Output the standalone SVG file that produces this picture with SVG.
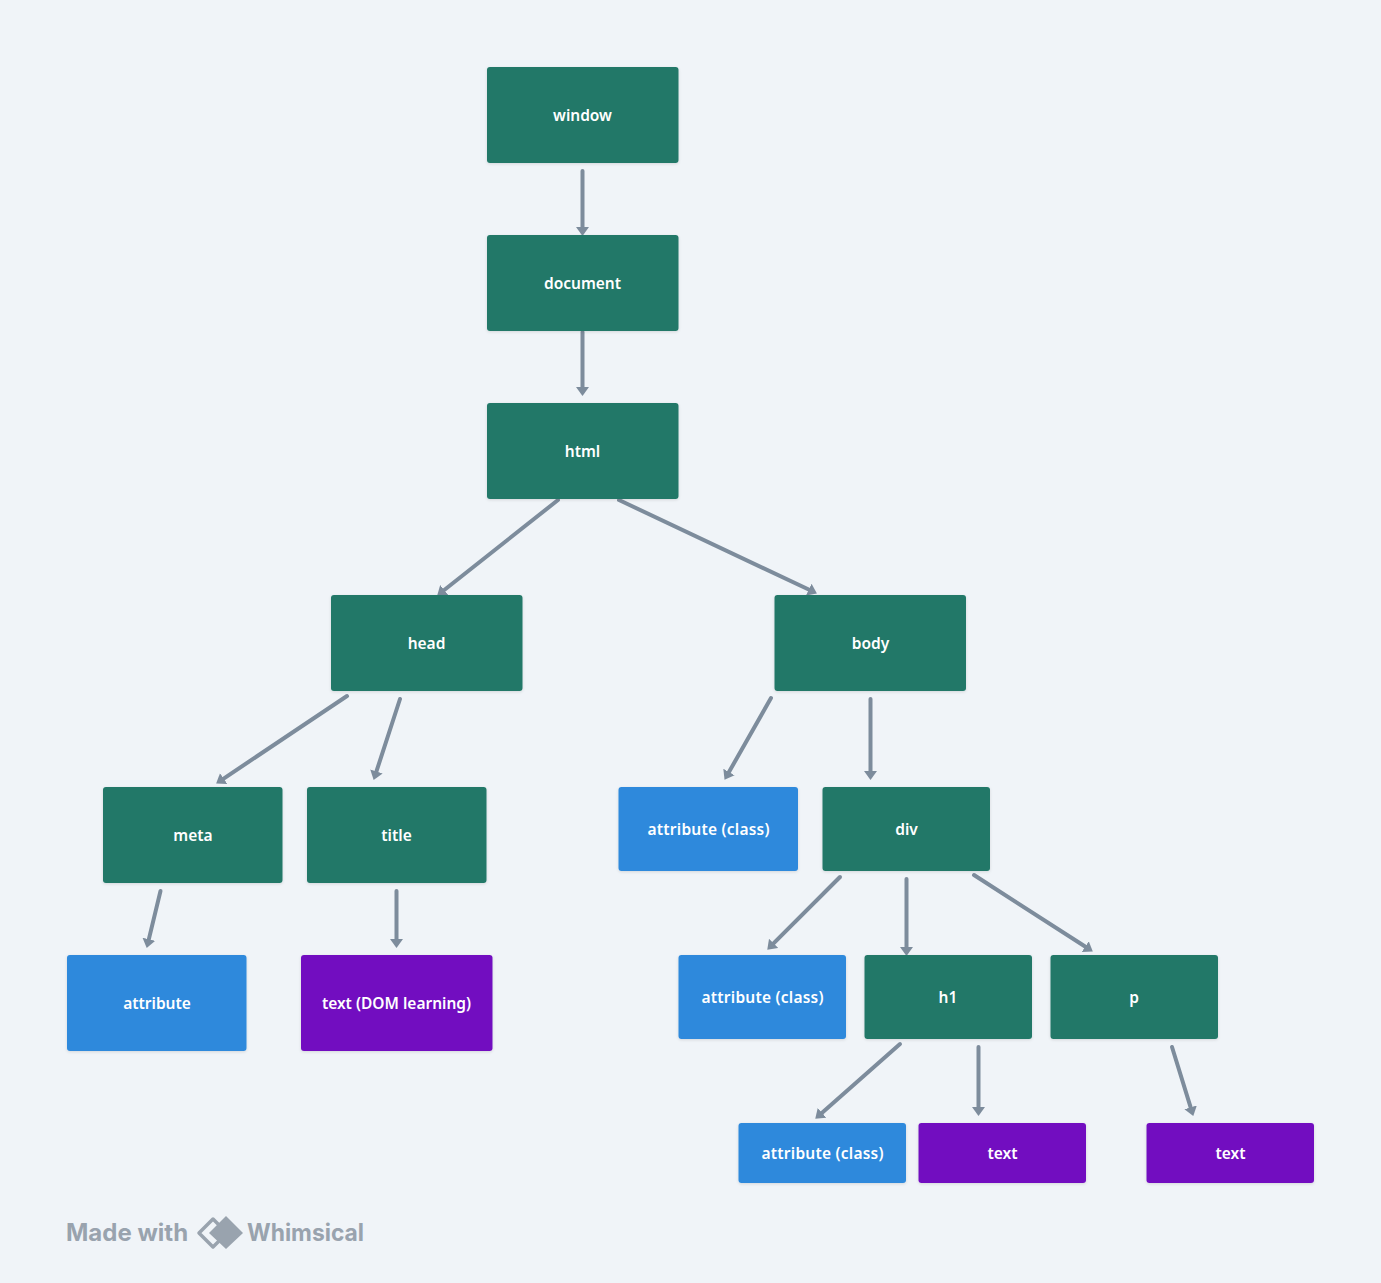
<svg xmlns="http://www.w3.org/2000/svg" width="1381" height="1283" viewBox="0 0 1381 1283">
<style>
.n rect{rx:3px;ry:3px;filter:url(#s)}
.g rect{fill:#207868}
.b rect{fill:#2d89dc}
.p rect{fill:#720fc0}
.n text{font:600 15.500px "Noto Sans",Roboto,sans-serif;fill:#fff;text-anchor:middle}
#connectors line{stroke:#7d8c9c;stroke-width:4;stroke-linecap:round;marker-end:url(#a)}
.w{font:700 24px Inter,"Liberation Sans",sans-serif;fill:#99a3ae}
</style>
<defs>
<marker id="a" markerUnits="userSpaceOnUse" markerWidth="16" markerHeight="16" refX="4" refY="7" orient="auto"><path d="M0 0.5L9 7L0 13.500Z" fill="#7d8c9c"/></marker>
<filter id="s" x="-5%" y="-5%" width="110%" height="115%"><feDropShadow dx="0" dy="1" stdDeviation="1.500" flood-color="#000" flood-opacity=".12"/></filter>
</defs>
<rect width="1381" height="1283" fill="#f0f4f8"/>
<g id="connectors">
<line x1="582.500" y1="171" x2="582.500" y2="231"/>
<line x1="582.500" y1="332" x2="582.500" y2="391"/>
<line x1="558" y1="500" x2="441.100" y2="592.500"/>
<line x1="619" y1="500" x2="812.400" y2="591.300"/>
<line x1="347" y1="696" x2="220.300" y2="780.800"/>
<line x1="400" y1="699" x2="375.200" y2="775.200"/>
<line x1="771" y1="698" x2="727" y2="775.500"/>
<line x1="870.500" y1="699" x2="870.500" y2="775"/>
<line x1="160.500" y1="891" x2="147.900" y2="943.100"/>
<line x1="396.500" y1="891" x2="396.500" y2="943"/>
<line x1="840" y1="877" x2="770.800" y2="946.200"/>
<line x1="906.500" y1="879" x2="906.500" y2="951"/>
<line x1="974" y1="875" x2="1088.600" y2="948.800"/>
<line x1="900" y1="1044" x2="819" y2="1115.400"/>
<line x1="978.500" y1="1047" x2="978.500" y2="1111"/>
<line x1="1172" y1="1047" x2="1191.800" y2="1111.200"/>
</g>
<g id="window" class="n g"><rect x="487" y="67" width="191.500" height="96"/><text x="582.500" y="121">window</text></g>
<g id="document" class="n g"><rect x="487" y="235" width="191.500" height="96"/><text x="582.500" y="289">document</text></g>
<g id="html" class="n g"><rect x="487" y="403" width="191.500" height="96"/><text x="582.500" y="457">html</text></g>
<g id="head" class="n g"><rect x="331" y="595" width="191.500" height="96"/><text x="426.500" y="649">head</text></g>
<g id="body" class="n g"><rect x="774.500" y="595" width="191.500" height="96"/><text x="870.500" y="649">body</text></g>
<g id="meta" class="n g"><rect x="103" y="787" width="179.500" height="96"/><text x="193" y="841">meta</text></g>
<g id="title" class="n g"><rect x="307" y="787" width="179.500" height="96"/><text x="396.500" y="841">title</text></g>
<g id="attr-body" class="n b"><rect x="618.500" y="787" width="179.500" height="84"/><text x="708.500" y="835" textLength="122">attribute (class)</text></g>
<g id="div" class="n g"><rect x="822.500" y="787" width="167.500" height="84"/><text x="906.500" y="835">div</text></g>
<g id="attr-meta" class="n b"><rect x="67" y="955" width="179.500" height="96"/><text x="157" y="1009">attribute</text></g>
<g id="text-title" class="n p"><rect x="301" y="955" width="191.500" height="96"/><text x="396.500" y="1009">text (DOM learning)</text></g>
<g id="attr-div" class="n b"><rect x="678.500" y="955" width="167.500" height="84"/><text x="762.500" y="1003" textLength="122">attribute (class)</text></g>
<g id="h1" class="n g"><rect x="864.500" y="955" width="167.500" height="84"/><text x="948" y="1003">h1</text></g>
<g id="p" class="n g"><rect x="1050.500" y="955" width="167.500" height="84"/><text x="1134" y="1003">p</text></g>
<g id="attr-h1" class="n b"><rect x="738.500" y="1123" width="167.500" height="60"/><text x="822.500" y="1159" textLength="122">attribute (class)</text></g>
<g id="text-h1" class="n p"><rect x="918.500" y="1123" width="167.500" height="60"/><text x="1002.500" y="1159">text</text></g>
<g id="text-p" class="n p"><rect x="1146.500" y="1123" width="167.500" height="60"/><text x="1230.500" y="1159">text</text></g>
<text class="w" x="66" y="1241">Made with</text>
<path d="M213 1219L199 1233L213 1247L220 1240L213 1233L220 1226Z" fill="none" stroke="#99a3ae" stroke-width="3.500" stroke-linejoin="round"/>
<path d="M226 1216L243 1233L226 1249L209 1233Z" fill="#99a3ae"/>
<text class="w" x="247" y="1241" textLength="117" lengthAdjust="spacingAndGlyphs">Whimsical</text>
</svg>
